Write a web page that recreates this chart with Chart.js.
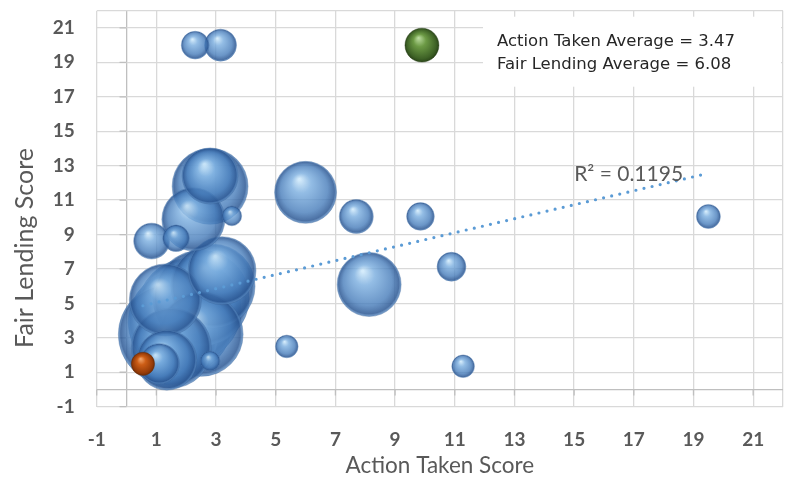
<!DOCTYPE html>
<html lang="en">
<head>
<meta charset="UTF-8">
<title>Fair Lending Score vs Action Taken Score</title>
<script src="https://cdn.jsdelivr.net/npm/chart.js"></script>
<style>
  html, body { margin: 0; padding: 0; background: #fff; }
  .chart-container { width: 788px; height: 478px; }
</style>
</head>
<body>
<div class="chart-container"><canvas id="myChart"></canvas></div>
<script>
// blue bubbles
const actionTaken = [2.3, 3.15, 2.8, 2.8, 6.0, 3.53, 2.24, 0.84, 1.66, 7.7, 9.85, 19.5,
                     8.13, 10.89, 5.37, 11.28,
                     1.1, 1.35, 1.5, 1.4, 1.8, 2.1, 2.5, 2.9, 3.2, 2.8, 1.3, 2.5];
const fairLending = [20, 20, 11.8, 12.4, 11.45, 10.08, 9.88, 8.62, 8.78, 10.05, 10.05, 10.05,
                     6.1, 7.13, 2.5, 1.35,
                     1.5, 1.7, 2.4, 3.2, 3.9, 4.6, 5.3, 6.0, 6.9, 1.65, 5.2, 3.2];
const bubbleSize  = [12, 16, 90, 49, 60, 6, 62, 20, 11, 18, 12, 9,
                     64, 13, 8, 8,
                     25, 56, 100, 156, 169, 169, 144, 110, 72, 6, 81, 110];

// highlighted bubbles
const lowAction = [0.55], lowFair = [1.49], lowSize = [8.5];     // orange
const highAction = [9.9], highFair = [20], highSize = [18];      // green

const xTicks = [-1, 1, 3, 5, 7, 9, 11, 13, 15, 17, 19, 21];
const yTicks = [-1, 1, 3, 5, 7, 9, 11, 13, 15, 17, 19, 21];

const trendSlope = 0.406;
const trendIntercept = 4.64;
const rSquared = '0.1195';
const actionAverage = '3.47';
const fairAverage = '6.08';

const radiusOf = s => 4 * Math.sqrt(s);

function makePoints(xs, ys, sizes) {
    return xs.map((x, i) => ({ x: x, y: ys[i], r: radiusOf(sizes[i]) }))
             .sort((a, b) => b.r - a.r);
}

function sphere(stops, plain) {
    return function (c) {
        const chart = c.chart;
        if (!c.raw || !chart.scales.x || !chart.scales.y) return plain;
        const x = chart.scales.x.getPixelForValue(c.raw.x);
        const y = chart.scales.y.getPixelForValue(c.raw.y);
        const r = c.raw.r;
        if (!isFinite(x) || !isFinite(y) || !isFinite(r)) return plain;
        const g = chart.ctx.createRadialGradient(x - r * 0.2, y - r * 0.42, r * 0.03, x, y, r);
        stops.forEach(s => g.addColorStop(s[0], s[1]));
        return g;
    };
}

const blueFill = sphere([
    [0, 'rgba(205,232,250,0.85)'], [0.3, 'rgba(120,172,222,0.8)'],
    [0.75, 'rgba(70,124,186,0.8)'], [0.94, 'rgba(44,88,148,0.85)'], [1, 'rgba(95,145,200,0.8)']
], 'rgba(91,155,213,0.8)');
const orangeFill = sphere([
    [0, '#f0a36a'], [0.35, '#cc5d16'], [0.85, '#953b08'], [1, '#6e2c05']
], '#c55a11');
const greenFill = sphere([
    [0, '#b8d99c'], [0.35, '#6c9a45'], [0.85, '#3e6226'], [1, '#2b4619']
], '#548235');

const allX = actionTaken.concat(lowAction, highAction);
const minX = Math.min(...allX), maxX = Math.max(...allX);

const extras = {
    id: 'extras',
    beforeDatasetsDraw(chart) {
        const ctx = chart.ctx, xs = chart.scales.x, ys = chart.scales.y, a = chart.chartArea;
        const x0 = xs.getPixelForValue(0), y0 = ys.getPixelForValue(0);
        ctx.save();
        ctx.strokeStyle = '#bfbfbf';
        ctx.lineWidth = 1.3;
        ctx.beginPath();
        yTicks.forEach(v => { const p = ys.getPixelForValue(v); ctx.moveTo(x0 - 7, p); ctx.lineTo(x0, p); });
        xTicks.forEach(v => { const p = xs.getPixelForValue(v); ctx.moveTo(p, y0); ctx.lineTo(p, y0 + 6); });
        ctx.stroke();
        // averages box
        ctx.fillStyle = '#fff';
        ctx.fillRect(a.right - 300, a.top + 6, 298, 70);
        ctx.fillStyle = '#262626';
        ctx.font = '16.5px "DejaVu Sans"';
        ctx.textBaseline = 'middle';
        ctx.textAlign = 'left';
        ctx.fillText('Action Taken Average = ' + actionAverage, a.right - 286, a.top + 31);
        ctx.fillText('Fair Lending Average = ' + fairAverage, a.right - 286, a.top + 54);
        ctx.restore();
    },
    afterDatasetsDraw(chart) {
        const ctx = chart.ctx, xs = chart.scales.x, ys = chart.scales.y;
        ctx.save();
        ctx.fillStyle = '#595959';
        ctx.font = '21px Lato';
        ctx.textBaseline = 'middle';
        ctx.textAlign = 'left';
        ctx.fillText('R² = ' + rSquared, xs.getPixelForValue(15.0), ys.getPixelForValue(12.5));
        // y axis title
        ctx.translate(25, 248);
        ctx.rotate(-Math.PI / 2);
        ctx.textAlign = 'center';
        ctx.font = '25px Lato';
        ctx.fillText('Fair Lending Score', 0, 0);
        ctx.restore();
    }
};

function tickList(list) {
    return [...new Set(list.concat([0, 22]))].sort((a, b) => a - b).map(v => ({ value: v }));
}

function noPadding(s) {
    s.paddingTop = 0; s.paddingBottom = 0; s.paddingLeft = 0; s.paddingRight = 0;
}

const gridColor = c => (c.tick && c.tick.value === 0) ? '#bfbfbf' : '#d9d9d9';

new Chart(document.getElementById('myChart').getContext('2d'), {
    type: 'bubble',
    data: {
        datasets: [
            {
                type: 'line',
                label: 'Trend',
                data: [minX, maxX].map(x => ({ x: x, y: trendIntercept + trendSlope * x })),
                borderColor: '#5b9bd5',
                borderWidth: 3.2,
                borderDash: [0, 8.3],
                borderCapStyle: 'round',
                pointRadius: 0,
                fill: false,
                order: 0
            },
            {
                label: 'Low',
                data: makePoints(lowAction, lowFair, lowSize),
                backgroundColor: orangeFill,
                borderColor: 'rgba(110,45,5,0.5)',
                borderWidth: 0.8,
                order: 1
            },
            {
                label: 'High',
                data: makePoints(highAction, highFair, highSize),
                backgroundColor: greenFill,
                borderColor: 'rgba(35,60,20,0.5)',
                borderWidth: 0.8,
                order: 2
            },
            {
                label: 'Lenders',
                data: makePoints(actionTaken, fairLending, bubbleSize),
                backgroundColor: blueFill,
                borderColor: 'rgba(45,85,140,0.35)',
                borderWidth: 1,
                order: 3
            }
        ]
    },
    options: {
        responsive: true,
        maintainAspectRatio: false,
        animation: false,
        events: [],
        layout: { autoPadding: false, padding: { top: 10.7, right: 5, bottom: 0, left: 0 } },
        plugins: { legend: { display: false }, tooltip: { enabled: false } },
        scales: {
            x: {
                type: 'linear',
                min: -1,
                max: 22,
                afterBuildTicks: s => { s.ticks = tickList(xTicks); },
                afterFit: s => { s.height = 478 - 406.7; noPadding(s); },
                ticks: {
                    autoSkip: false,
                    maxRotation: 0,
                    padding: 22,
                    color: '#595959',
                    font: { family: 'Lato', size: 19, weight: 'bold' },
                    callback: v => xTicks.includes(v) ? String(v) : ''
                },
                grid: { color: gridColor, lineWidth: 1.3, drawTicks: false },
                border: { display: false },
                title: {
                    display: true,
                    text: 'Action Taken Score',
                    color: '#595959',
                    font: { family: 'Lato', size: 22.5, lineHeight: 1 },
                    padding: { top: 0, bottom: 1 }
                }
            },
            y: {
                type: 'linear',
                min: -1,
                max: 22,
                afterBuildTicks: s => { s.ticks = tickList(yTicks); },
                afterFit: s => { s.width = 96.7; noPadding(s); },
                ticks: {
                    autoSkip: false,
                    padding: 22,
                    color: '#595959',
                    font: { family: 'Lato', size: 19, weight: 'bold' },
                    callback: v => yTicks.includes(v) ? String(v) : ''
                },
                grid: { color: gridColor, lineWidth: 1.3, drawTicks: false },
                border: { display: false }
            }
        }
    },
    plugins: [extras]
});
</script>
</body>
</html>
